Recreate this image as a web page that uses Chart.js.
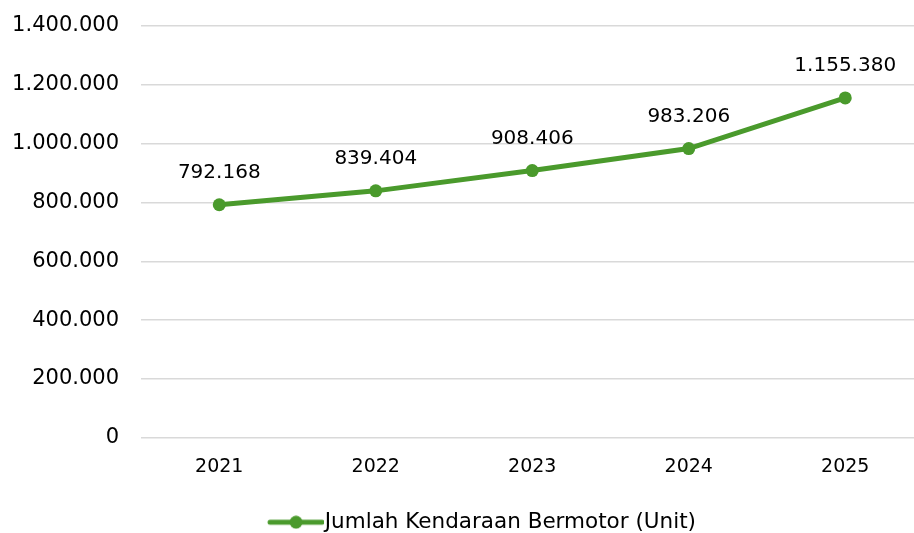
<!DOCTYPE html>
<html>
<head>
<meta charset="utf-8">
<script src="https://cdn.jsdelivr.net/npm/chart.js@4.4.1/dist/chart.umd.min.js"></script>
<style>
    html, body { margin: 0; padding: 0; background: #fff; overflow: hidden; }
    #wrap { width: 914px; height: 533px; overflow: hidden; }
</style>
</head>
<body>
<div id="wrap"><canvas id="kendaraanChart" width="930" height="543"></canvas></div>
<script>
const tahun = ['2021', '2022', '2023', '2024', '2025'];
const jumlahKendaraan = [792168, 839404, 908406, 983206, 1155380];
const namaSeri = 'Jumlah Kendaraan Bermotor (Unit)';
const warnaHijau = '#4a9a2c';

// format angka gaya Indonesia: 1.155.380
function formatAngka(v) {
    return String(Math.round(v)).replace(/\B(?=(\d{3})+(?!\d))/g, '.');
}

// ikon legenda: garis dengan titik di tengah (bagian kiri dibiarkan kosong)
function ikonLegenda() {
    const c = document.createElement('canvas');
    c.width = 90;
    c.height = 14;
    const g = c.getContext('2d');
    g.strokeStyle = warnaHijau;
    g.lineWidth = 5;
    g.lineCap = 'round';
    g.beginPath();
    g.moveTo(36, 7);
    g.lineTo(88, 7);
    g.stroke();
    g.fillStyle = warnaHijau;
    g.beginPath();
    g.arc(62, 7, 6.5, 0, Math.PI * 2);
    g.fill();
    return c;
}

// label nilai di atas titik
const labelNilai = {
    id: 'labelNilai',
    afterDatasetsDraw(chart) {
        const ctx = chart.ctx;
        const meta = chart.getDatasetMeta(0);
        ctx.save();
        ctx.font = '20px "DejaVu Sans"';
        ctx.fillStyle = '#000';
        ctx.textAlign = 'center';
        ctx.textBaseline = 'middle';
        meta.data.forEach((pt, i) => {
            ctx.fillText(formatAngka(jumlahKendaraan[i]), pt.x, pt.y - 32);
        });
        ctx.restore();
    }
};

Chart.defaults.font.family = '"DejaVu Sans", sans-serif';
Chart.defaults.font.size = 21;
Chart.defaults.color = '#000';

const ctx = document.getElementById('kendaraanChart').getContext('2d');
const ikon = ikonLegenda();

new Chart(ctx, {
    type: 'line',
    data: {
        labels: tahun,
        datasets: [{
            label: namaSeri,
            data: jumlahKendaraan,
            borderColor: warnaHijau,
            backgroundColor: warnaHijau,
            borderWidth: 5,
            tension: 0,
            fill: false,
            pointRadius: 6.5,
            pointHoverRadius: 6.5,
            pointBorderWidth: 0
        }]
    },
    options: {
        responsive: false,
        animation: false,
        layout: {
            padding: { left: 13, right: 3, top: 0, bottom: 0 }
        },
        scales: {
            x: {
                offset: true,
                grid: { display: false, drawTicks: false },
                border: { display: false },
                afterFit: (scale) => { scale.height += 11; },
                ticks: { padding: 18, font: { size: 19 } }
            },
            y: {
                min: 0,
                max: 1400000,
                afterFit: (scale) => {
                    scale.width = 128;
                    scale.paddingTop = 26;
                },
                ticks: {
                    stepSize: 200000,
                    padding: 22,
                    callback: (v) => formatAngka(v)
                },
                grid: { color: '#d9d9d9', lineWidth: 1.5, drawTicks: false },
                border: { display: false }
            }
        },
        plugins: {
            tooltip: { enabled: false },
            legend: {
                position: 'bottom',
                labels: {
                    usePointStyle: true,
                    pointStyleWidth: 70,
                    boxHeight: 14,
                    padding: 4,
                    font: { size: 21.5 },
                    generateLabels: () => [{
                        text: namaSeri,
                        pointStyle: ikon,
                        fillStyle: warnaHijau,
                        strokeStyle: warnaHijau,
                        lineWidth: 0,
                        datasetIndex: 0
                    }]
                }
            }
        }
    },
    plugins: [labelNilai]
});
</script>
</body>
</html>
